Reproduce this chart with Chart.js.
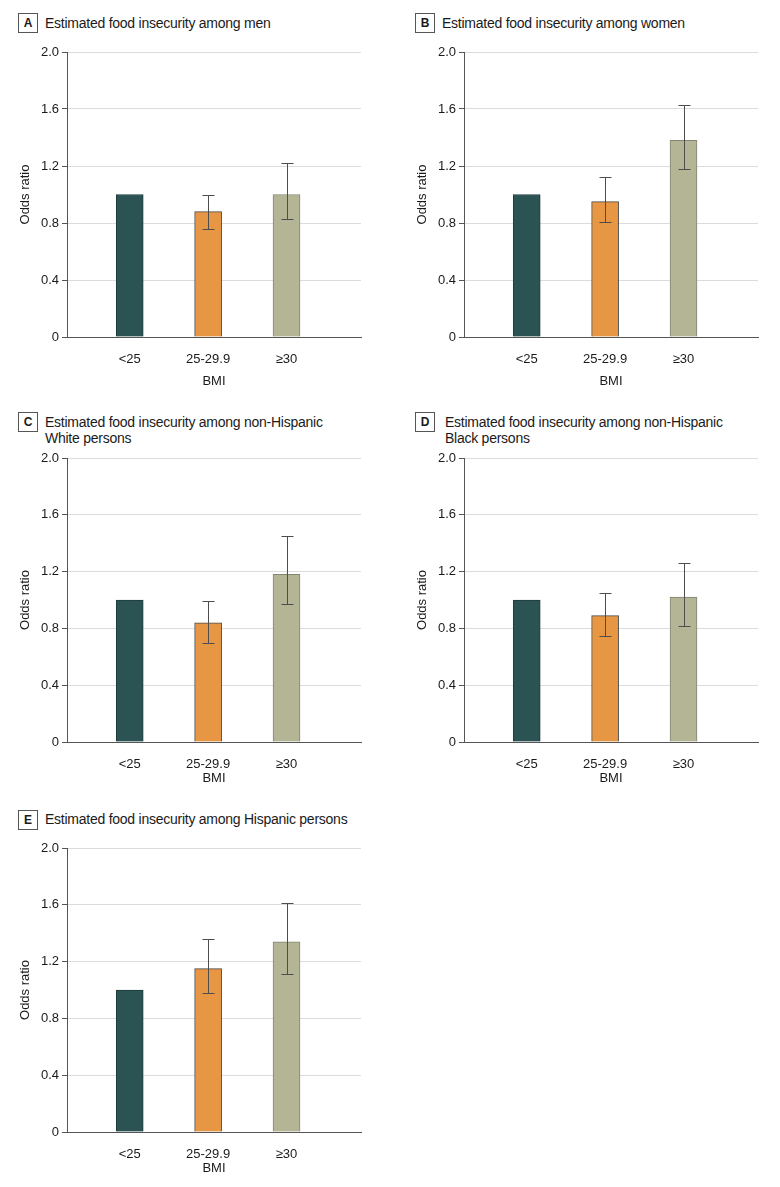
<!DOCTYPE html>
<html>
<head>
<meta charset="utf-8">
<script src="https://cdn.jsdelivr.net/npm/chart.js@4.4.1/dist/chart.umd.min.js"></script>
<style>
  body { margin: 0; background: #fff; width: 780px; height: 1187px; position: relative;
         font-family: "Liberation Sans", Arial, sans-serif; color: #1a1a1a; }
  .tag { position: absolute; width: 18px; height: 18px; border: 1px solid #555; font-weight: bold;
         font-size: 12px; text-align: center; line-height: 18px; }
  .ptitle { position: absolute; font-size: 14px; letter-spacing: -0.25px; line-height: 15.6px; white-space: nowrap; }
  canvas { position: absolute; }
</style>
</head>
<body>
<script>
// Categories and axis ticks
const bmiCategories = ['<25', '25-29.9', '≥30'];
const yTicks = [0, 0.4, 0.8, 1.2, 1.6, 2.0];

// Odds ratios with 95% CI (reference group <25 has no interval)
const menOR = [1.0, 0.88, 1.0];
const menLower = [null, 0.76, 0.83];
const menUpper = [null, 1.00, 1.22];

const womenOR = [1.0, 0.95, 1.38];
const womenLower = [null, 0.81, 1.18];
const womenUpper = [null, 1.12, 1.63];

const whiteOR = [1.0, 0.84, 1.18];
const whiteLower = [null, 0.70, 0.97];
const whiteUpper = [null, 0.99, 1.45];

const blackOR = [1.0, 0.89, 1.02];
const blackLower = [null, 0.75, 0.82];
const blackUpper = [null, 1.05, 1.26];

const hispanicOR = [1.0, 1.15, 1.34];
const hispanicLower = [null, 0.98, 1.11];
const hispanicUpper = [null, 1.36, 1.61];

const barColors = ['#2b5353', '#e79743', '#b3b595'];
const barBorders = ['#1f3b3b', '#4a4a4a', '#858572'];

// Panel layout (page coordinates of each plot area)
const panels = [
  { letter: 'A', title: ['Estimated food insecurity among men'], or: menOR, lo: menLower, hi: menUpper,
    x: 0, top: 52, bottom: 337, xHeight: 54, tagTop: 13, textLeft: 45, textTop: 16 },
  { letter: 'B', title: ['Estimated food insecurity among women'], or: womenOR, lo: womenLower, hi: womenUpper,
    x: 397, top: 52, bottom: 337, xHeight: 54, tagTop: 13, textLeft: 442, textTop: 16 },
  { letter: 'C', title: ['Estimated food insecurity among non-Hispanic', 'White persons'], or: whiteOR, lo: whiteLower, hi: whiteUpper,
    x: 0, top: 458, bottom: 742, xHeight: 46, tagTop: 412, textLeft: 45, textTop: 415 },
  { letter: 'D', title: ['Estimated food insecurity among non-Hispanic', 'Black persons'], or: blackOR, lo: blackLower, hi: blackUpper,
    x: 397, top: 458, bottom: 742, xHeight: 46, tagTop: 412, textLeft: 445, textTop: 415 },
  { letter: 'E', title: ['Estimated food insecurity among Hispanic persons'], or: hispanicOR, lo: hispanicLower, hi: hispanicUpper,
    x: 0, top: 848, bottom: 1132, xHeight: 46, tagTop: 810, textLeft: 45, textTop: 812 }
];

// Draw CI whiskers from the lower/upper arrays
const errorBars = {
  id: 'errorBars',
  afterDatasetsDraw(chart, args, opts) {
    const ctx = chart.ctx;
    const y = chart.scales.y;
    const bars = chart.getDatasetMeta(0).data;
    ctx.save();
    ctx.strokeStyle = '#4d4d4d';
    ctx.lineWidth = 1;
    bars.forEach((bar, i) => {
      if (opts.lo[i] == null) return;
      const x = Math.round(bar.x) + 0.5;
      const y1 = Math.round(y.getPixelForValue(opts.lo[i])) + 0.5;
      const y2 = Math.round(y.getPixelForValue(opts.hi[i])) + 0.5;
      ctx.beginPath();
      ctx.moveTo(x, y1); ctx.lineTo(x, y2);
      ctx.moveTo(x - 6, y1); ctx.lineTo(x + 6, y1);
      ctx.moveTo(x - 6, y2); ctx.lineTo(x + 6, y2);
      ctx.stroke();
    });
    ctx.restore();
  }
};

const font13 = { family: '"Liberation Sans", Arial, sans-serif', size: 13 };

function makePanel(p) {
  const tag = document.createElement('div');
  tag.className = 'tag';
  tag.style.left = (p.x + 18) + 'px';
  tag.style.top = p.tagTop + 'px';
  tag.textContent = p.letter;
  document.body.appendChild(tag);

  const t = document.createElement('div');
  t.className = 'ptitle';
  t.style.left = p.textLeft + 'px';
  t.style.top = p.textTop + 'px';
  t.innerHTML = p.title.join('<br>');
  document.body.appendChild(t);

  const padTop = 14;
  const canvas = document.createElement('canvas');
  canvas.width = 369;
  canvas.height = padTop + (p.bottom - p.top) + p.xHeight;
  canvas.style.left = p.x + 'px';
  canvas.style.top = (p.top - padTop) + 'px';
  document.body.appendChild(canvas);

  new Chart(canvas, {
    type: 'bar',
    data: {
      datasets: [{
        data: p.or.map((v, i) => ({ x: i + 1, y: v })),
        backgroundColor: barColors,
        borderColor: barBorders,
        borderWidth: 1,
        barThickness: 27
      }]
    },
    options: {
      responsive: false,
      animation: false,
      devicePixelRatio: 1,
      layout: { padding: { top: padTop, right: 8, bottom: 0, left: 0 } },
      plugins: {
        legend: { display: false },
        tooltip: { enabled: false },
        errorBars: { lo: p.lo, hi: p.hi }
      },
      scales: {
        x: {
          type: 'linear',
          min: 0.2,
          max: 3.95,
          offset: false,
          afterBuildTicks: s => { s.ticks = bmiCategories.map((c, i) => ({ value: i + 1 })); },
          afterFit: s => { s.height = p.xHeight; },
          ticks: { color: '#1a1a1a', font: font13, padding: 7, autoSkip: false, maxRotation: 0,
                   callback: v => bmiCategories[v - 1] },
          grid: { display: false, offset: false },
          border: { display: true, color: '#555', width: 1 },
          title: { display: true, text: 'BMI', color: '#1a1a1a', font: font13, padding: { top: 0, bottom: 2 } }
        },
        y: {
          min: 0,
          max: 2.0,
          afterBuildTicks: s => { s.ticks = yTicks.map(v => ({ value: v })); },
          afterFit: s => { s.width = 67; },
          ticks: { color: '#1a1a1a', font: font13, padding: 3,
                   callback: v => v === 0 ? '0' : v.toFixed(1) },
          grid: { color: '#dcdcdc', tickColor: '#555', tickLength: 5 },
          border: { display: true, color: '#555', width: 1 },
          title: { display: true, text: 'Odds ratio', color: '#1a1a1a', font: font13, padding: { top: 18, bottom: 0 } }
        }
      }
    },
    plugins: [errorBars]
  });
}

panels.forEach(makePanel);
</script>
</body>
</html>
